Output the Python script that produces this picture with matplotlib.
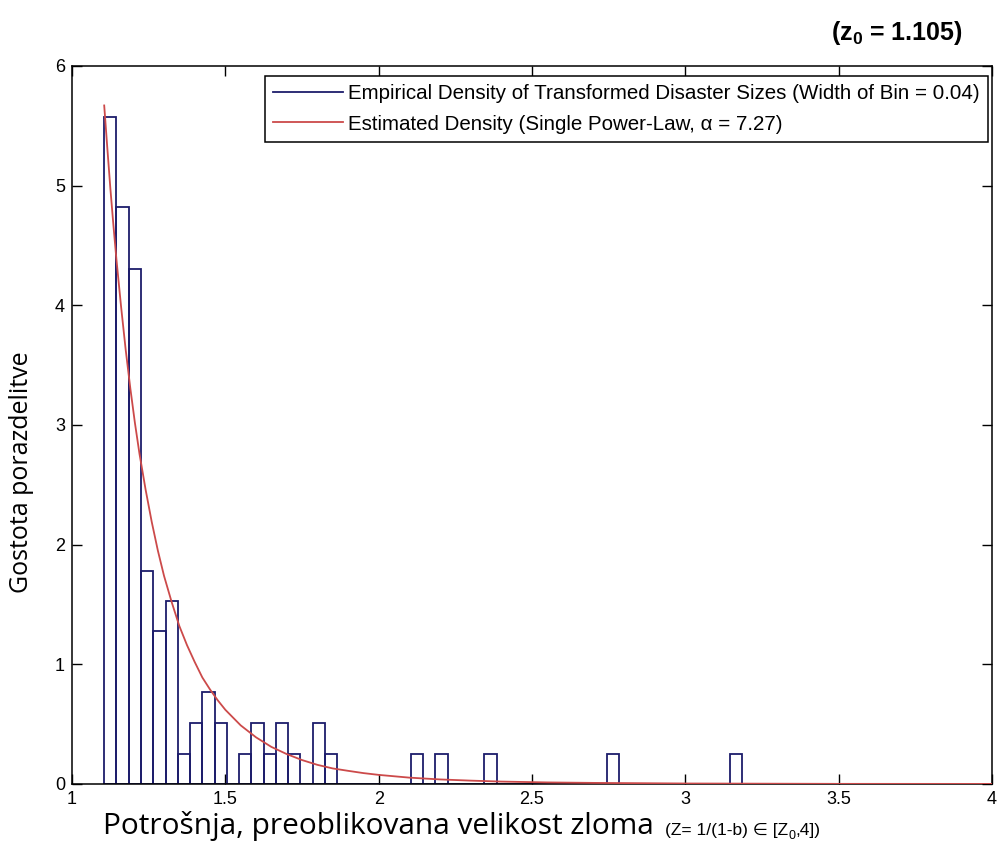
import matplotlib
matplotlib.use("Agg")
import matplotlib.pyplot as plt
from matplotlib.lines import Line2D

# histogram: bins of width 0.04 starting at z0
z0 = 1.105
bin_width = 0.04
# density per bin, bins from 1.105 up to 3.225
bin_density = [
    5.57, 4.82, 4.30, 1.78, 1.28, 1.53, 0.25, 0.51, 0.77, 0.51,
    0.00, 0.25, 0.51, 0.25, 0.51, 0.25, 0.00, 0.51, 0.25, 0.00,
    0.00, 0.00, 0.00, 0.00, 0.00, 0.25, 0.00, 0.25, 0.00, 0.00,
    0.00, 0.25, 0.00, 0.00, 0.00, 0.00, 0.00, 0.00, 0.00, 0.00,
    0.00, 0.25, 0.00, 0.00, 0.00, 0.00, 0.00, 0.00, 0.00, 0.00,
    0.00, 0.25, 0.00,
]
bin_left = [z0 + i * bin_width for i in range(len(bin_density))]

# estimated density curve
curve_x = [1.105, 1.115, 1.125, 1.135, 1.145, 1.16, 1.175, 1.19, 1.205, 1.22,
           1.24, 1.26, 1.28, 1.30, 1.325, 1.35, 1.375, 1.40, 1.425, 1.45,
           1.475, 1.50, 1.55, 1.60, 1.65, 1.70, 1.75, 1.80, 1.85, 1.90,
           1.95, 2.00, 2.10, 2.20, 2.30, 2.40, 2.55, 2.70, 3.00, 3.50, 4.00]
curve_y = [5.67, 5.32, 4.98, 4.67, 4.38, 3.99, 3.63, 3.31, 3.02, 2.76,
           2.46, 2.19, 1.95, 1.74, 1.52, 1.32, 1.16, 1.02, 0.89, 0.79,
           0.70, 0.62, 0.49, 0.39, 0.31, 0.25, 0.20, 0.16, 0.13, 0.11,
           0.091, 0.076, 0.053, 0.038, 0.028, 0.020, 0.013, 0.009, 0.004,
           0.001, 0.0005]

hist_color = "#1c1c6b"
curve_color = "#cc4a4a"
sans = ["Liberation Sans", "DejaVu Sans"]

plt.rcParams["mathtext.fontset"] = "custom"
plt.rcParams["mathtext.rm"] = "Liberation Sans"
plt.rcParams["mathtext.bf"] = "Liberation Sans:bold"

fig = plt.figure(figsize=(10, 8.48), dpi=100)
ax = fig.add_axes([0.072, 0.0755, 0.92, 0.8467])

ax.bar(bin_left, bin_density, width=bin_width, align="edge", fill=False,
       edgecolor=hist_color, linewidth=1.3, zorder=2)
ax.plot(curve_x, curve_y, color=curve_color, linewidth=1.3, zorder=3)

ax.set_xlim(1, 4)
ax.set_ylim(0, 6)
ax.set_xticks([1, 1.5, 2, 2.5, 3, 3.5, 4])
ax.set_xticklabels(["1", "1.5", "2", "2.5", "3", "3.5", "4"])
ax.set_yticks(range(7))
ax.tick_params(direction="in", length=7, width=1, top=True, right=True,
               labelsize=13, pad=5)
for lab in ax.get_xticklabels() + ax.get_yticklabels():
    lab.set_family("Liberation Sans")
for sp in ax.spines.values():
    sp.set_linewidth(1.1)

handles = [Line2D([], [], color=hist_color, linewidth=1.3),
           Line2D([], [], color=curve_color, linewidth=1.3)]
labels = ["Empirical Density of Transformed Disaster Sizes (Width of Bin = 0.04)",
          "Estimated Density (Single Power-Law, α = 7.27)"]
leg = ax.legend(handles, labels, loc="upper right", bbox_to_anchor=(0.9957, 0.986),
                fancybox=False, edgecolor="black", framealpha=1,
                prop={"family": "Liberation Sans", "size": 14.8},
                handlelength=3.4, handletextpad=0.25, labelspacing=0.55,
                borderpad=0.4, borderaxespad=0)
leg.get_frame().set_linewidth(1.1)

fig.text(0.022, 0.4434, "Gostota porazdelitve", rotation=90, ha="center",
         va="center", fontsize=18, family="Open Sans")
fig.text(0.103, 1 - 834 / 848, "Potrošnja, preoblikovana velikost zloma",
         ha="left", va="baseline", fontsize=21.5, family="Open Sans")

# "(Z= 1/(1-b) ∈ [Z0,4])" in pieces so that ∈ can fall back to DejaVu Sans
zpart = fig.text(0.665, 1 - 838 / 848, "(Z= 1/(1-b) ∈ [Z", ha="left",
                 va="bottom", fontsize=12.5, family=sans)
sub = ax.annotate("0", xy=(1.0, 0.12), xycoords=zpart, ha="left", va="center",
                  fontsize=9, family=sans, annotation_clip=False)
ax.annotate(",4])", xy=(1.0, 0.0), xycoords=(sub, zpart), ha="left",
            va="bottom", fontsize=12.5, family=sans, annotation_clip=False)

fig.text(0.963, 1 - 40 / 848, r"(z$_{\mathregular{0}}$ = 1.105)", ha="right",
         va="baseline", fontsize=18, fontweight="bold", family="Liberation Sans")

fig.savefig("out.png", dpi=100)
